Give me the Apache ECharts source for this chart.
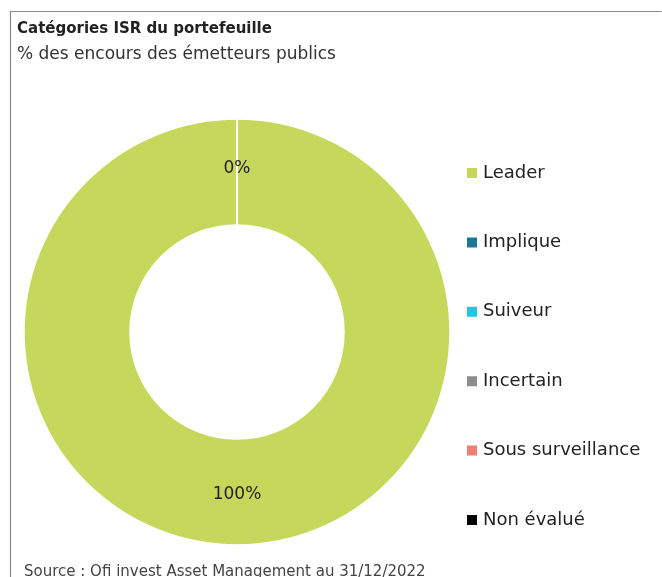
<!DOCTYPE html>
<html>
<head>
  <meta charset="utf-8">
  <title>Catégories ISR</title>
  <style>
    html, body { margin: 0; padding: 0; background: #fff; }
    #main { width: 662px; height: 577px; }
  </style>
</head>
<body>
  <div id="main"></div>
  <script src="https://cdn.jsdelivr.net/npm/echarts@6/dist/echarts.min.js"></script>
  <script type="text/javascript">
    // données du graphique
    var categories = ['Leader', 'Implique', 'Suiveur', 'Incertain', 'Sous surveillance', 'Non évalué'];
    var values = [100, 0, 0, 0, 0, 0];
    var colors = ['#c6d85c', '#1b7896', '#1dc9e2', '#8c8c8c', '#ef7d72', '#000000'];

    var myChart = echarts.init(document.getElementById('main'));

    var pieData = [];
    for (var i = 0; i < categories.length; i++) {
      pieData.push({
        name: categories[i],
        value: values[i],
        itemStyle: { color: colors[i] }
      });
    }

    var font = '"DejaVu Sans", sans-serif';

    var option = {
      animation: false,
      title: {
        text: 'Catégories ISR du portefeuille',
        subtext: '% des encours des émetteurs publics',
        left: 12,
        top: 17,
        itemGap: 9,
        textStyle: { fontFamily: font, fontSize: 15, fontWeight: 'bold', color: '#222' },
        subtextStyle: { fontFamily: font, fontSize: 17, color: '#333' }
      },
      legend: {
        orient: 'vertical',
        left: 460,
        top: 157,
        icon: 'rect',
        itemWidth: 12,
        itemHeight: 12,
        itemGap: 47.4,
        selectedMode: false,
        textStyle: { fontFamily: font, fontSize: 18, color: '#222', lineHeight: 22 },
        data: categories
      },
      graphic: [
        {
          type: 'polyline',
          shape: { points: [[10.5, 590], [10.5, 11.5], [661.5, 11.5]] },
          style: { stroke: '#8a8a8a', lineWidth: 1.2, fill: null }
        },
        {
          type: 'text',
          left: 24,
          top: 565,
          style: { text: 'Source : Ofi invest Asset Management au 31/12/2022', font: '15px ' + font, fill: '#444' }
        }
      ],
      series: [
        {
          name: 'Catégories ISR',
          type: 'pie',
          center: [237, 332],
          radius: [107, 213],
          startAngle: 90,
          clockwise: true,
          avoidLabelOverlap: false,
          itemStyle: { borderColor: '#fff', borderWidth: 1.5 },
          label: {
            show: true,
            position: 'inside',
            formatter: '{d}%',
            fontFamily: font,
            fontSize: 17,
            color: '#222'
          },
          labelLine: { show: false },
          emphasis: { disabled: true },
          data: pieData
        }
      ]
    };
    myChart.setOption(option);
  </script>
</body>
</html>
